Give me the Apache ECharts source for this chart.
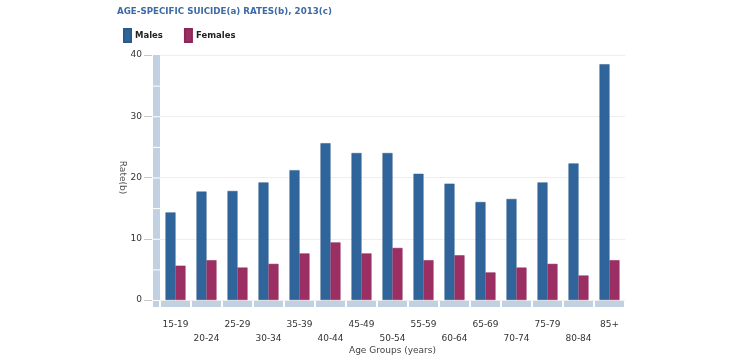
<!DOCTYPE html>
<html><head><meta charset="utf-8">
<script src="https://cdn.jsdelivr.net/npm/echarts@6/dist/echarts.min.js"></script>
<style>html,body{margin:0;padding:0;background:#fff}#c{width:740px;height:357px}</style>
</head><body><div id="c"></div>
<script>
var categories = ['15-19','20-24','25-29','30-34','35-39','40-44','45-49','50-54','55-59','60-64','65-69','70-74','75-79','80-84','85+'];
var males = [14.3, 17.7, 17.8, 19.2, 21.2, 25.6, 24.0, 24.0, 20.6, 19.0, 16.0, 16.5, 19.2, 22.3, 38.5];
var females = [5.6, 6.5, 5.3, 5.9, 7.6, 9.4, 7.6, 8.5, 6.5, 7.3, 4.5, 5.3, 5.9, 4.0, 6.5];
var yTicks = [0, 10, 20, 30, 40];
var bandSegments = [0, 5, 10, 15, 20, 25, 30, 35];

var FONT = '"DejaVu Sans", Verdana, sans-serif';
var BAND = '#c2d1e1';
var chart = echarts.init(document.getElementById('c'), null, {renderer: 'canvas'});
chart.setOption({
  animation: false,
  title: {
    text: 'AGE-SPECIFIC SUICIDE(a) RATES(b), 2013(c)',
    left: 112, top: 2,
    textStyle: {fontFamily: FONT, fontSize: 8.7, fontWeight: 'bold', color: '#3d6aa5'}
  },
  legend: {
    left: 118, top: 23, icon: 'rect',
    itemWidth: 7, itemHeight: 13, itemGap: 21,
    data: ['Males', 'Females'],
    textStyle: {fontFamily: FONT, fontSize: 8.5, fontWeight: 'bold', color: '#222', padding: [0,0,0,-1]}
  },
  grid: {left: 160, right: 115, top: 55, bottom: 57, outerBoundsMode: 'none', containLabel: false},
  xAxis: {
    type: 'category', data: categories,
    name: 'Age Groups (years)', nameLocation: 'middle', nameGap: 46, nameMoveOverlap: false,
    nameTextStyle: {fontFamily: FONT, fontSize: 9, color: '#444'},
    axisLine: {show: false}, axisTick: {show: false},
    axisLabel: {
      interval: 0, margin: 18, fontFamily: FONT, fontSize: 9, color: '#333', lineHeight: 14,
      formatter: function (v, i) { return i % 2 ? '\n' + v : v; }
    }
  },
  yAxis: {
    type: 'value', min: 0, max: 40, interval: 10, offset: 8,
    name: 'Rate(b)', nameLocation: 'middle', nameGap: 25, nameRotate: -90, nameMoveOverlap: false,
    nameTextStyle: {fontFamily: FONT, fontSize: 9, color: '#555'},
    axisLine: {show: false},
    axisTick: {show: true, length: 8, lineStyle: {color: '#c8c8c8'}},
    axisLabel: {margin: 10, fontFamily: FONT, fontSize: 9, color: '#333',
      formatter: function (v) { return yTicks.indexOf(v) >= 0 ? String(v) : ''; }},
    splitLine: {lineStyle: {color: '#eeeeee'}}
  },
  series: [
    {name: 'Males', type: 'bar', data: males, barWidth: 10, barGap: '0%',
      itemStyle: {color: '#30659b', borderColor: '#2a5a8c', borderWidth: 0.5}},
    {name: 'Females', type: 'bar', data: females, barWidth: 10,
      itemStyle: {color: '#9b2f63', borderColor: '#8a2858', borderWidth: 0.5}},
    {
      type: 'custom', silent: true, clip: false, z: 1,
      data: categories.map(function (c, i) { return [i, 0]; }),
      renderItem: function (params, api) {
        var p = api.coord([api.value(0), 0]);
        var w = api.size([1, 0])[0];
        return {type: 'rect', shape: {x: p[0] - w / 2 + 1, y: p[1] + 1, width: w - 2, height: 6},
          style: {fill: BAND}};
      }
    },
    {
      type: 'custom', silent: true, clip: false, z: 1,
      data: bandSegments.map(function (v) { return [0, v]; }),
      renderItem: function (params, api) {
        var v = api.value(1);
        var p0 = api.coord([0, v]);
        var p1 = api.coord([0, v + 5]);
        var w = api.size([1, 0])[0];
        var left = p0[0] - w / 2 - 8;
        var top = v + 5 >= 40;
        var children = [{type: 'rect', shape: {x: left + 1, y: p1[1] + (top ? 0 : 1), width: 7, height: p0[1] - p1[1] - (top ? 0 : 1)},
          style: {fill: BAND}}];
        if (v === 0) {
          children.push({type: 'rect', shape: {x: left + 1, y: p0[1] + 1, width: 6, height: 6}, style: {fill: BAND}});
        }
        return {type: 'group', children: children};
      }
    }
  ]
});
</script>
</body></html>
